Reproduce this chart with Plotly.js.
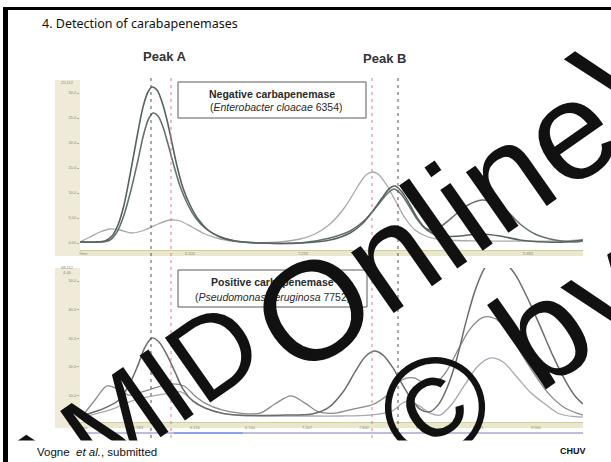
<!DOCTYPE html>
<html><head><meta charset="utf-8">
<script src="https://cdn.plot.ly/plotly-3.0.1.min.js"></script>
<style>html,body{margin:0;padding:0;background:#fff}#chart{width:611px;height:462px}</style>
</head><body><div id="chart"></div>
<script>
// ---------- DATA (retention time in min, detector signal in arbitrary units) ----------
// Top panel: Negative carbapenemase (Enterobacter cloacae 6354)
const negTimeA = [5.00,5.15,5.25,5.32,5.38,5.44,5.50,5.57,5.63,5.68,5.72,5.77,5.82,5.87,5.92,5.97,6.03,6.10,6.18,6.28,6.40,6.55,6.80,7.20,7.50,7.70,7.82,7.92,8.02,8.10,8.15,8.22,8.30,8.38,8.47,8.60,8.80,9.00,9.20,9.40,9.65,9.85,10.03];
const negSignalA = [0.04,0.04,0.08,0.28,0.72,1.52,2.72,4.24,5.44,6.04,6.24,6.12,5.64,4.92,4.00,3.08,2.20,1.52,0.96,0.52,0.24,0.08,0.00,0.00,0.12,0.40,0.76,1.24,1.80,2.20,2.28,2.04,1.52,0.96,0.52,0.28,0.28,0.36,0.28,0.12,0.04,0.04,0.12];
const negTimeB = [5.00,5.20,5.30,5.37,5.44,5.51,5.58,5.64,5.69,5.73,5.78,5.83,5.88,5.94,6.00,6.07,6.15,6.25,6.38,6.55,6.80,7.20,7.50,7.70,7.85,7.98,8.08,8.14,8.21,8.29,8.37,8.45,8.53,8.63,8.75,8.88,9.02,9.15,9.28,9.40,9.55,9.75,9.95,10.03];
const negSignalB = [0.04,0.04,0.12,0.44,1.12,2.12,3.32,4.40,5.00,5.20,5.08,4.64,3.96,3.08,2.28,1.60,1.04,0.60,0.28,0.08,0.00,0.00,0.20,0.48,0.92,1.52,2.00,2.16,1.96,1.48,0.96,0.60,0.52,0.72,1.12,1.52,1.72,1.60,1.24,0.76,0.36,0.12,0.04,0.08];
const negTimeC = [5.00,5.10,5.20,5.30,5.40,5.52,5.65,5.78,5.90,6.00,6.12,6.25,6.40,6.60,7.00,7.20,7.35,7.50,7.65,7.78,7.86,7.92,7.98,8.06,8.15,8.25,8.35,8.48,8.65,9.00,9.40,9.80,10.03];
const negSignalC = [0.04,0.24,0.44,0.56,0.52,0.40,0.52,0.76,0.92,0.88,0.64,0.36,0.16,0.04,0.04,0.16,0.36,0.76,1.44,2.28,2.72,2.84,2.76,2.36,1.72,1.00,0.52,0.24,0.12,0.08,0.08,0.08,0.12];
// Bottom panel: Positive carbapenemase (Pseudomonas aeruginosa 7752)
const posTimeA = [5.03,5.20,5.39,5.50,5.58,5.65,5.72,5.79,5.87,5.95,6.03,6.13,6.25,6.42,6.60,7.00,7.32,7.48,7.63,7.75,7.85,7.94,8.03,8.13,8.22,8.32,8.40,8.49,8.58,8.67,8.77,8.86,8.96,9.06,9.15,9.25,9.35,9.47,9.60,9.73,9.86,9.95,10.03];
const posSignalA = [0.31,0.49,0.84,1.43,2.06,2.69,3.01,2.87,2.41,1.82,1.22,0.80,0.56,0.38,0.31,0.31,0.35,0.56,1.12,1.82,2.34,2.55,2.41,1.96,1.40,0.84,0.52,0.42,0.66,1.26,2.31,3.57,4.76,5.52,5.73,5.63,5.24,4.44,3.43,2.38,1.47,0.98,0.70];
const posTimeB = [5.03,5.15,5.27,5.38,5.49,5.62,5.75,5.90,6.04,6.15,6.25,6.42,6.60,6.80,6.95,7.11,7.25,7.39,7.55,7.73,7.94,8.10,8.22,8.34,8.46,8.56,8.66,8.78,8.90,9.02,9.11,9.20,9.32,9.44,9.57,9.70,9.85,10.03];
const posSignalB = [0.31,0.84,1.33,1.22,1.01,1.12,1.26,1.40,1.33,0.98,0.73,0.49,0.38,0.38,0.70,0.98,0.73,0.42,0.38,0.52,0.70,1.08,1.54,1.61,1.40,1.43,1.82,2.59,3.32,3.71,3.74,3.57,3.01,2.31,1.61,1.01,0.56,0.31];
const posTimeC = [5.03,5.30,5.55,5.73,5.90,6.01,6.12,6.25,6.45,6.80,7.20,7.60,7.90,8.12,8.25,8.38,8.50,8.60,8.72,8.84,8.98,9.11,9.23,9.36,9.50,9.65,9.80,10.03];
const posSignalC = [0.24,0.49,0.84,0.98,1.08,1.12,0.84,0.56,0.35,0.28,0.28,0.28,0.31,0.45,0.77,0.66,0.38,0.31,0.70,1.33,2.03,2.31,2.17,1.68,1.12,0.70,0.35,0.24];
// Peak markers (retention times)
const peakA = [5.71, 5.91];   // [reference, shifted]
const peakB = [7.92, 8.18];   // [shifted, reference]
// Tick labels
const topTickVals = [5.03, 6.10, 7.23, 8.37, 9.48];
const topTickText = ["Time", "6.100", "7.233", "8.367", "9.483"];
const botTickVals = [5.03, 5.58, 6.15, 6.70, 7.27, 7.84, 8.41, 8.98, 9.56];
const botTickText = ["Time", "5.583", "6.150", "6.700", "7.267", "7.840", "8.410", "8.983", "9.560"];
const topYTicks = [0,1,2,3,4,5,6];
const topYText = ["0.00","5.00","10.0","15.0","20.0","25.0","30.0"];
const botYTicks = [0,1,2,3,4,5];
const botYText = ["0.00","10.0","20.0","30.0","40.0","50.0"];
// Watermark words
const watermarkWords = ["AMID", "Online", "V", "\u00a9 by"];

// ---------- LAYOUT HELPERS (pixel -> paper) ----------
const W = 611, H = 462;
const px = v => v / W;
const py = v => 1 - v / H;

const lineStyle = (c, w) => ({color: c, width: w, shape: 'spline', smoothing: 0.9});
const traces = [
  {x: negTimeC, y: negSignalC, xaxis: 'x', yaxis: 'y', mode: 'lines', line: lineStyle('#a9a9a9', 1.3)},
  {x: negTimeB, y: negSignalB, xaxis: 'x', yaxis: 'y', mode: 'lines', line: lineStyle('#66726f', 1.6)},
  {x: negTimeA, y: negSignalA, xaxis: 'x', yaxis: 'y', mode: 'lines', line: lineStyle('#56645f', 1.6)},
  {x: posTimeC, y: posSignalC, xaxis: 'x2', yaxis: 'y2', mode: 'lines', line: lineStyle('#a8a8b4', 1.3)},
  {x: posTimeB, y: posSignalB, xaxis: 'x2', yaxis: 'y2', mode: 'lines', line: lineStyle('#8a8a8a', 1.3)},
  {x: posTimeA, y: posSignalA, xaxis: 'x2', yaxis: 'y2', mode: 'lines', line: lineStyle('#6c6c6c', 1.5)}
];

const xDom = [px(80), px(583)];
const tinyFont = {family: 'Liberation Sans, Arial', size: 4, color: '#8a8a70'};
const xCommon = {domain: xDom, range: [5.0, 10.03], showgrid: false, zeroline: false, showline: false,
  ticks: '', tickfont: tinyFont, tickmode: 'array', fixedrange: true};
const yCommon = {showgrid: false, zeroline: false, showline: false, ticks: 'outside', ticklen: 2,
  tickcolor: '#b0aa90', tickfont: tinyFont, tickmode: 'array', fixedrange: true};

const shapes = [];
const rect = (x0, y0, x1, y1, fill, line) => shapes.push({type: 'rect', xref: 'paper', yref: 'paper',
  x0: px(x0), x1: px(x1), y0: py(y1), y1: py(y0), fillcolor: fill, line: line || {width: 0}, layer: 'below'});
// axis bands
rect(55, 80, 80, 256, '#efebd8');
rect(80, 250, 583, 256, '#e9e8cc');
rect(55, 268, 80, 428, '#efebd8');
rect(80, 422, 583, 428, '#e9e8cc');
shapes.push({type: 'line', xref: 'paper', yref: 'paper', x0: px(80), x1: px(583), y0: py(250.5), y1: py(250.5), line: {color: '#cfcca6', width: 1}});
shapes.push({type: 'line', xref: 'paper', yref: 'paper', x0: px(80), x1: px(583), y0: py(422.5), y1: py(422.5), line: {color: '#cfcca6', width: 1}});
shapes.push({type: 'line', xref: 'paper', yref: 'paper', x0: px(80), x1: px(583), y0: py(433), y1: py(433), line: {color: '#a7a7d2', width: 1.5}});
shapes.push({type: 'line', xref: 'paper', yref: 'paper', x0: px(174), x1: px(243), y0: py(433), y1: py(433), line: {color: '#7d9ae6', width: 1.5}});
// peak marker dashed lines
const vline = (t, c) => shapes.push({type: 'line', xref: 'x', yref: 'paper', x0: t, x1: t, y0: py(438), y1: py(75),
  line: {color: c, width: 1, dash: '3px,4px'}});
vline(peakA[0], '#555555'); vline(peakA[1], '#e07a8a');
vline(peakB[0], '#e07a8a'); vline(peakB[1], '#555555');
// label boxes
shapes.push({type: 'rect', xref: 'paper', yref: 'paper', x0: px(178), x1: px(366), y0: py(118), y1: py(82), fillcolor: '#ffffff', line: {color: '#5a5a5a', width: 1}});
shapes.push({type: 'rect', xref: 'paper', yref: 'paper', x0: px(178), x1: px(367), y0: py(307), y1: py(270), fillcolor: '#ffffff', line: {color: '#5a5a5a', width: 1}});
// slide frame
shapes.push({type: 'rect', xref: 'paper', yref: 'paper', x0: px(3), x1: px(611), y0: py(10), y1: py(7), fillcolor: '#000', line: {width: 0}});
shapes.push({type: 'rect', xref: 'paper', yref: 'paper', x0: px(3), x1: px(8), y0: py(462), y1: py(7), fillcolor: '#000', line: {width: 0}});

const ann = (x, y, text, font, extra) => Object.assign({xref: 'paper', yref: 'paper', x: px(x), y: py(y), text: text,
  showarrow: false, font: font, xanchor: 'center', yanchor: 'middle'}, extra || {});
const arial = (s, c) => ({family: 'Liberation Sans, Arial', size: s, color: c || '#222'});
const wm = s => ({family: 'Liberation Sans, Arial', size: s, color: '#111'});
const annotations = [
  ann(40, 23, '4. Detection of carabapenemases', {family: 'Noto Sans', size: 12.5, color: '#111'}, {xanchor: 'left'}),
  ann(164, 56, '<b>Peak A</b>', arial(13, '#333')),
  ann(384, 59, '<b>Peak B</b>', arial(13, '#333')),
  ann(272, 94, '<b>Negative carbapenemase</b>', arial(10.5, '#2a2a2a')),
  ann(276, 107, '(<i>Enterobacter cloacae</i> 6354)', arial(10.5, '#2a2a2a')),
  ann(272, 282, '<b>Positive carbapenemase</b>', arial(10.5, '#2a2a2a')),
  ann(272, 297, '(<i>Pseudomonas aeruginosa</i> 7752)', arial(10.5, '#2a2a2a')),
  ann(67, 83, '25.112', tinyFont),
  ann(67, 270, '68.112<br>4.40', tinyFont),
  // watermark (drawn over the slide picture)
  ann(130, 410, watermarkWords[0], wm(115), {textangle: -35}),
  ann(434, 225, watermarkWords[1], wm(140), {textangle: -35}),
  ann(628, 72, watermarkWords[2], wm(140), {textangle: -35}),
  ann(512, 352, watermarkWords[3], wm(142), {textangle: -35}),
  // caption strip below the picture (white, above the watermark)
  ann(9, 451.5, '\u00a0', arial(11.5, '#111'),
      {xanchor: 'left', width: 602, height: 21, bgcolor: '#ffffff', borderpad: 0}),
  ann(35, 452, 'Vogne\u00a0 <i>et al.</i>, submitted', arial(11.5, '#111'), {xanchor: 'left'}),
  ann(573, 451, '<b>CHUV</b>', arial(9, '#111'))
];

const layout = {
  width: W, height: H, margin: {l: 0, r: 0, t: 0, b: 0},
  paper_bgcolor: '#ffffff', plot_bgcolor: 'rgba(0,0,0,0)', showlegend: false,
  xaxis: Object.assign({}, xCommon, {anchor: 'y', tickvals: topTickVals, ticktext: topTickText}),
  yaxis: Object.assign({}, yCommon, {anchor: 'x', domain: [py(250), py(80)], range: [-0.28, 6.52], tickvals: topYTicks, ticktext: topYText}),
  xaxis2: Object.assign({}, xCommon, {anchor: 'y2', tickvals: botTickVals, ticktext: botTickText}),
  yaxis2: Object.assign({}, yCommon, {anchor: 'x2', domain: [py(424), py(268)], range: [-0.0, 5.455], tickvals: botYTicks, ticktext: botYText}),
  shapes: shapes, annotations: annotations
};
Plotly.newPlot('chart', traces, layout, {staticPlot: true, displayModeBar: false});
</script></body></html>
